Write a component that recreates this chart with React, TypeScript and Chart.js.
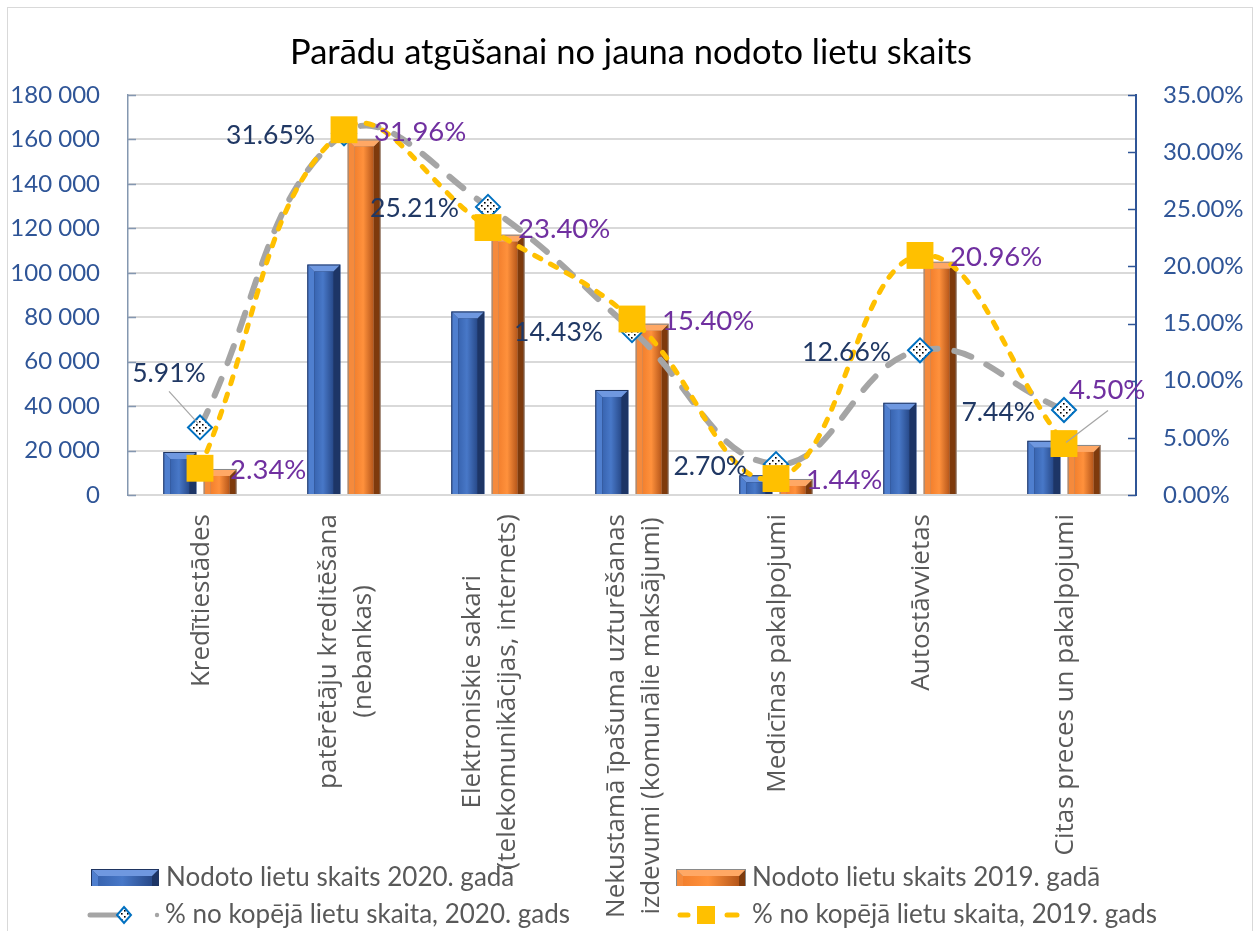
import React, { useEffect, useRef } from "react";
import { Chart, registerables } from "chart.js";

Chart.register(...registerables);

// ---------- data ----------
const chartTitle = "Parādu atgūšanai no jauna nodoto lietu skaits";
const categories: string[][] = [
  ["Kredītiestādes"],
  ["patērētāju kreditēšana", "(nebankas)"],
  ["Elektroniskie sakari", "(telekomunikācijas, internets)"],
  ["Nekustamā īpašuma uzturēšanas", "izdevumi (komunālie maksājumi)"],
  ["Medicīnas pakalpojumi"],
  ["Autostāvvietas"],
  ["Citas preces un pakalpojumi"],
];
const cases2020 = [19360, 103690, 82590, 47270, 8850, 41480, 24370];
const cases2019 = [11710, 160000, 117140, 77090, 7210, 104930, 22530];
const share2020 = [5.91, 31.65, 25.21, 14.43, 2.7, 12.66, 7.44];
const share2019 = [2.34, 31.96, 23.4, 15.4, 1.44, 20.96, 4.5];
const seriesNames = [
  "Nodoto lietu skaits 2020. gadā",
  "Nodoto lietu skaits 2019. gadā",
  "% no kopējā lietu skaita, 2020. gads",
  "% no kopējā lietu skaita, 2019. gads",
];
const leftAxis = { min: 0, max: 180000, step: 20000 };
const rightAxis = { min: 0, max: 35, step: 5 };

// ---------- styles ----------
const W = 1258;
const H = 931;
const NUM_FONT = "Lato";
const CAT_FONT = "'Open Sans'";
const AXIS_BLUE = "#2F5597";
const LABEL_2020 = "#203864";
const LABEL_2019 = "#7030A0";
const GRAY_LINE = "#A5A5A5";
const YELLOW = "#FFC000";
const DIAMOND_BORDER = "#0070C0";

function fmtThousands(v: number) {
  return String(Math.round(v)).replace(/\B(?=(\d{3})+(?!\d))/g, " ");
}

function makeDotPattern(): CanvasPattern | string {
  const c = document.createElement("canvas");
  c.width = 6;
  c.height = 6;
  const g = c.getContext("2d");
  if (!g) return "#ffffff";
  g.fillStyle = "#ffffff";
  g.fillRect(0, 0, 6, 6);
  g.fillStyle = "#000000";
  g.fillRect(1, 1, 1.6, 1.6);
  g.fillRect(4, 4, 1.6, 1.6);
  const p = g.createPattern(c, "repeat");
  return p || "#ffffff";
}

const BLUE_BAR = { outer: "#1F3561", left: "#4F7FCF", top: "#6F98E0", right: "#1D3566", faceA: "#3864B0", faceB: "#4878C8", faceC: "#284A8A" };
const ORANGE_BAR = { outer: "#8A8A8A", left: "#F58A3C", top: "#FFA865", right: "#7E3A0C", faceA: "#F3802E", faceB: "#FF913C", faceC: "#B5561A" };

function drawBevelBar(ctx: CanvasRenderingContext2D, L: number, T: number, R: number, B: number, pal: any) {
  const w = R - L;
  const h = B - T;
  if (w <= 0 || h <= 0) return;
  const bev = Math.min(6, h / 2, w / 4);
  ctx.save();
  ctx.fillStyle = pal.outer;
  ctx.fillRect(L, T, w, h);
  const l = L + 1, r = R - 1, t = T + 1, b = B;
  ctx.fillStyle = pal.left;
  ctx.beginPath();
  ctx.moveTo(l, t); ctx.lineTo(l + bev, t + bev); ctx.lineTo(l + bev, b); ctx.lineTo(l, b); ctx.closePath(); ctx.fill();
  ctx.fillStyle = pal.right;
  ctx.beginPath();
  ctx.moveTo(r, t); ctx.lineTo(r - bev, t + bev); ctx.lineTo(r - bev, b); ctx.lineTo(r, b); ctx.closePath(); ctx.fill();
  ctx.fillStyle = pal.top;
  ctx.beginPath();
  ctx.moveTo(l, t); ctx.lineTo(r, t); ctx.lineTo(r - bev, t + bev); ctx.lineTo(l + bev, t + bev); ctx.closePath(); ctx.fill();
  const fl = l + bev, fr = r - bev;
  if (fr > fl) {
    const g = ctx.createLinearGradient(fl, 0, fr, 0);
    g.addColorStop(0, pal.faceA);
    g.addColorStop(0.45, pal.faceB);
    g.addColorStop(1, pal.faceC);
    ctx.fillStyle = g;
    ctx.fillRect(fl, t + bev, fr - fl, b - t - bev);
  }
  ctx.restore();
}

let dotPattern: CanvasPattern | string = "#ffffff";

const decorPlugin = {
  id: "decor",
  beforeDraw(chart: any) {
    const ctx: CanvasRenderingContext2D = chart.ctx;
    ctx.save();
    ctx.fillStyle = "#ffffff";
    ctx.fillRect(0, 0, W, H);
    ctx.strokeStyle = "#D9D9D9";
    ctx.lineWidth = 1;
    ctx.strokeRect(7.5, 7.5, 1245, 940);
    ctx.fillStyle = "#000000";
    ctx.font = `34.5px ${NUM_FONT}`;
    ctx.textAlign = "center";
    ctx.textBaseline = "alphabetic";
    ctx.fillText(chartTitle, 631, 64);
    ctx.restore();
  },
  afterDatasetDraw(chart: any, args: any) {
    const meta = args.meta;
    if (meta.type !== "bar") return;
    const ctx: CanvasRenderingContext2D = chart.ctx;
    const pal = args.index === 2 ? BLUE_BAR : ORANGE_BAR;
    meta.data.forEach((el: any) => {
      const p = el.getProps(["x", "y", "base", "width"], true);
      drawBevelBar(ctx, p.x - p.width / 2, p.y, p.x + p.width / 2, p.base, pal);
    });
  },
  afterDatasetsDraw(chart: any) {
    const ctx: CanvasRenderingContext2D = chart.ctx;
    const area = chart.chartArea;
    const ys = chart.scales.y;
    const y1s = chart.scales.y1;
    const xs = chart.scales.x;
    ctx.save();
    ctx.lineWidth = 1.5;
    ctx.strokeStyle = "#8497B0";
    for (let v = leftAxis.min; v <= leftAxis.max; v += leftAxis.step) {
      const py = Math.round(ys.getPixelForValue(v)) + 0.5;
      ctx.beginPath(); ctx.moveTo(area.left, py); ctx.lineTo(area.left + 8, py); ctx.stroke();
    }
    ctx.strokeStyle = AXIS_BLUE;
    for (let v = rightAxis.min; v <= rightAxis.max; v += rightAxis.step) {
      const py = Math.round(y1s.getPixelForValue(v)) + 0.5;
      ctx.beginPath(); ctx.moveTo(area.right - 8, py); ctx.lineTo(area.right, py); ctx.stroke();
    }

    // category labels (rotated, lines centred)
    ctx.fillStyle = "#595959";
    ctx.font = `26px ${CAT_FONT}`;
    ctx.textBaseline = "middle";
    ctx.textAlign = "center";
    categories.forEach((lines, i) => {
      const cx = xs.getPixelForValue(i);
      const maxW = Math.max(...lines.map((s) => ctx.measureText(s).width));
      ctx.save();
      ctx.translate(cx + 2, area.bottom + 19);
      ctx.rotate(-Math.PI / 2);
      lines.forEach((s, j) => {
        ctx.fillText(s, -maxW / 2, (j - (lines.length - 1) / 2) * 35);
      });
      ctx.restore();
    });

    // data labels
    ctx.textBaseline = "middle";
    const grayMeta = chart.getDatasetMeta(1);
    const yellowMeta = chart.getDatasetMeta(0);
    ctx.font = `26.5px ${NUM_FONT}`;
    grayMeta.data.forEach((pt: any, i: number) => {
      const txt = share2020[i].toFixed(2) + "%";
      ctx.fillStyle = LABEL_2020;
      if (i === 0) {
        ctx.textAlign = "center";
        ctx.fillText(txt, pt.x - 31, pt.y - 54);
        ctx.strokeStyle = "#A5A5A5";
        ctx.lineWidth = 1.2;
        ctx.beginPath(); ctx.moveTo(pt.x - 31, pt.y - 36); ctx.lineTo(pt.x - 2, pt.y - 4); ctx.stroke();
      } else {
        ctx.textAlign = "right";
        ctx.fillText(txt, pt.x - 29, pt.y + 2);
      }
    });
    ctx.font = `27.5px ${NUM_FONT}`;
    yellowMeta.data.forEach((pt: any, i: number) => {
      const txt = share2019[i].toFixed(2) + "%";
      ctx.fillStyle = LABEL_2019;
      ctx.textAlign = "left";
      if (i === 6) {
        ctx.fillText(txt, pt.x + 5, pt.y - 53);
        ctx.strokeStyle = "#A5A5A5";
        ctx.lineWidth = 1.2;
        ctx.beginPath(); ctx.moveTo(pt.x + 44, pt.y - 33); ctx.lineTo(pt.x + 2, pt.y - 1); ctx.stroke();
      } else {
        ctx.fillText(txt, pt.x + 30, pt.y + 2);
      }
    });
    ctx.restore();
  },
  afterDraw(chart: any) {
    const ctx: CanvasRenderingContext2D = chart.ctx;
    ctx.save();
    drawBevelBar(ctx, 91, 869, 159, 886, BLUE_BAR);
    drawBevelBar(ctx, 676, 869, 746, 886, ORANGE_BAR);
    ctx.font = `26px ${NUM_FONT}`;
    ctx.fillStyle = "#595959";
    ctx.textAlign = "left";
    ctx.textBaseline = "middle";
    ctx.fillText(seriesNames[0], 166, 878);
    ctx.fillText(seriesNames[1], 752, 878);
    ctx.fillText(seriesNames[2], 165, 915);
    ctx.fillText(seriesNames[3], 752, 915);
    // gray line swatch
    ctx.strokeStyle = GRAY_LINE;
    ctx.lineWidth = 5;
    ctx.lineCap = "round";
    ctx.beginPath(); ctx.moveTo(90, 915); ctx.lineTo(122, 915); ctx.stroke();
    ctx.fillStyle = GRAY_LINE;
    ctx.beginPath(); ctx.arc(157, 915, 2.2, 0, Math.PI * 2); ctx.fill();
    ctx.beginPath();
    ctx.moveTo(124, 907); ctx.lineTo(131, 915); ctx.lineTo(124, 923); ctx.lineTo(117, 915); ctx.closePath();
    ctx.fillStyle = dotPattern as any;
    ctx.fill();
    ctx.strokeStyle = DIAMOND_BORDER;
    ctx.lineWidth = 2;
    ctx.stroke();
    // yellow swatch
    ctx.strokeStyle = YELLOW;
    ctx.lineWidth = 5;
    ctx.lineCap = "round";
    ctx.beginPath(); ctx.moveTo(680, 915); ctx.lineTo(688, 915); ctx.stroke();
    ctx.beginPath(); ctx.moveTo(727, 915); ctx.lineTo(737, 915); ctx.stroke();
    ctx.fillStyle = YELLOW;
    ctx.fillRect(697, 906, 18, 18);
    ctx.restore();
  },
};

export default function App() {
  const ref = useRef<HTMLCanvasElement | null>(null);
  useEffect(() => {
    if (!ref.current) return;
    dotPattern = makeDotPattern();
    const chart = new Chart(ref.current, {
      type: "bar",
      data: {
        labels: categories.map((c) => c.join(" ")),
        datasets: [
          {
            type: "line",
            label: seriesNames[3],
            data: share2019,
            yAxisID: "y1",
            order: 0,
            borderColor: YELLOW,
            borderWidth: 5,
            borderDash: [7, 11],
            borderCapStyle: "round",
            tension: 0.42,
            pointStyle: "rect",
            pointRadius: 19,
            pointBackgroundColor: YELLOW,
            pointBorderColor: YELLOW,
            pointBorderWidth: 0,
          } as any,
          {
            type: "line",
            label: seriesNames[2],
            data: share2020,
            yAxisID: "y1",
            order: 1,
            borderColor: GRAY_LINE,
            borderWidth: 6,
            borderDash: [18, 17],
            borderCapStyle: "round",
            tension: 0.42,
            pointStyle: "rectRot",
            pointRadius: 12,
            pointBackgroundColor: dotPattern,
            pointBorderColor: DIAMOND_BORDER,
            pointBorderWidth: 2,
          } as any,
          {
            type: "bar",
            label: seriesNames[0],
            data: cases2020,
            yAxisID: "y",
            order: 2,
            backgroundColor: "#4472C4",
            categoryPercentage: 0.56,
            barPercentage: 0.82,
          } as any,
          {
            type: "bar",
            label: seriesNames[1],
            data: cases2019,
            yAxisID: "y",
            order: 2,
            backgroundColor: "#ED7D31",
            categoryPercentage: 0.56,
            barPercentage: 0.82,
          } as any,
        ],
      },
      plugins: [decorPlugin],
      options: {
        responsive: false,
        animation: false,
        devicePixelRatio: 1,
        layout: { padding: { top: 95, left: 0, right: 0, bottom: 0 } },
        plugins: {
          legend: { display: false },
          title: { display: false },
          tooltip: { enabled: false },
        },
        scales: {
          x: {
            grid: { display: false, drawTicks: false },
            border: { color: "#D9D9D9", width: 2 },
            ticks: { display: false },
            afterFit: (s: any) => {
              s.height = 436;
            },
          },
          y: {
            position: "left",
            min: leftAxis.min,
            max: leftAxis.max,
            ticks: {
              stepSize: leftAxis.step,
              color: AXIS_BLUE,
              font: { family: NUM_FONT, size: 24 },
              padding: 28,
              callback: (v: any) => fmtThousands(Number(v)),
            },
            grid: { color: "#D9D9D9", lineWidth: 2, drawTicks: false },
            border: { color: "#8497B0", width: 1.5 },
            afterFit: (s: any) => {
              s.width = 128;
            },
          },
          y1: {
            position: "right",
            min: rightAxis.min,
            max: rightAxis.max,
            ticks: {
              stepSize: rightAxis.step,
              color: AXIS_BLUE,
              font: { family: NUM_FONT, size: 24 },
              padding: 27,
              callback: (v: any) => Number(v).toFixed(2) + "%",
            },
            grid: { drawOnChartArea: false, drawTicks: false },
            border: { color: AXIS_BLUE, width: 2 },
            afterFit: (s: any) => {
              s.width = 122;
            },
          },
        },
      } as any,
    });
    return () => chart.destroy();
  }, []);
  return (
    <div style={{ position: "fixed", left: 0, top: 0, width: W, height: H, background: "#fff" }}>
      <canvas ref={ref} width={W} height={H} style={{ display: "block", width: W, height: H }} />
    </div>
  );
}
